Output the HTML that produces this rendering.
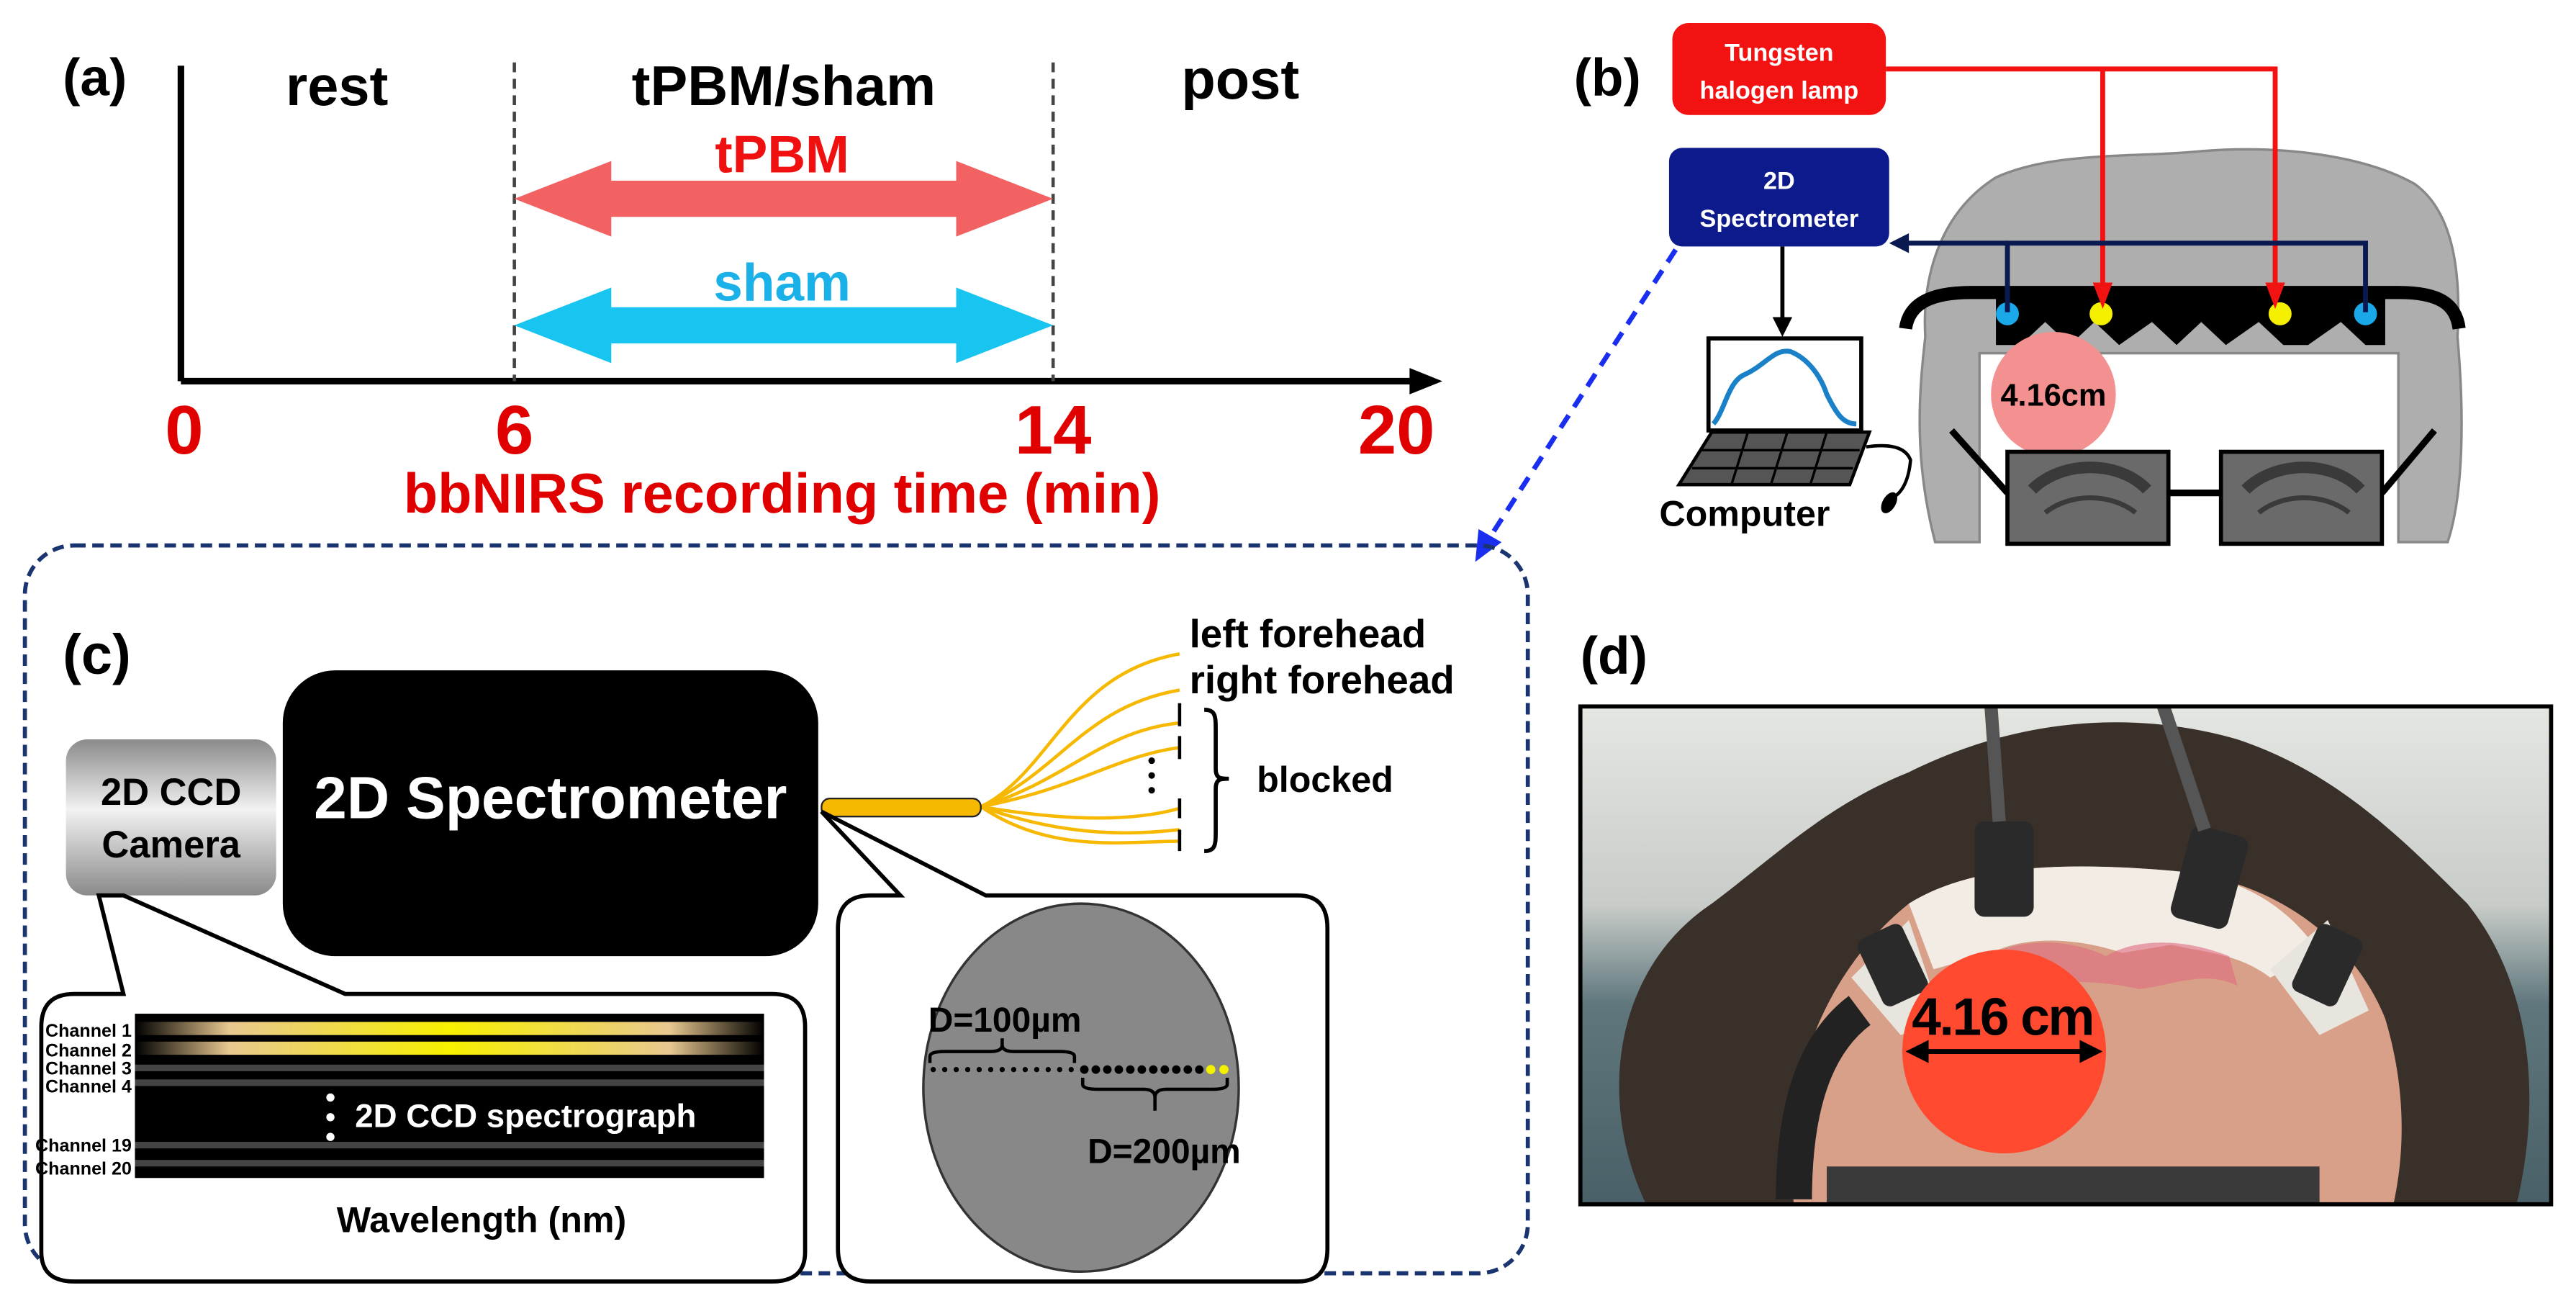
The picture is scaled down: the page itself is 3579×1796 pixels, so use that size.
<!DOCTYPE html>
<html><head><meta charset="utf-8"><style>
html,body{margin:0;padding:0;background:#fff}
svg{display:block}
text{font-family:"Liberation Sans",sans-serif;font-weight:bold}
</style></head><body>
<svg width="3579" height="1796" viewBox="0 0 1568 787" xmlns="http://www.w3.org/2000/svg">
<defs>
<linearGradient id="cam" x1="0" y1="0" x2="0" y2="1"><stop offset="0" stop-color="#8a8a8a"/><stop offset="0.45" stop-color="#f2f2f2"/><stop offset="1" stop-color="#8a8a8a"/></linearGradient>
<linearGradient id="glow" x1="0" y1="0" x2="1" y2="0"><stop offset="0" stop-color="#000"/><stop offset="0.15" stop-color="#e8c890"/><stop offset="0.5" stop-color="#f8f000"/><stop offset="0.85" stop-color="#e8c890"/><stop offset="1" stop-color="#000"/></linearGradient>
<linearGradient id="bg" x1="0" y1="0" x2="0" y2="1"><stop offset="0" stop-color="#e4e6e2"/><stop offset="0.4" stop-color="#c8ccc8"/><stop offset="0.6" stop-color="#5e767c"/><stop offset="1" stop-color="#4a6068"/></linearGradient>
</defs>

<!-- (a) -->
<text x="38" y="58" font-size="32">(a)</text>
<line x1="110" y1="40" x2="110" y2="232" stroke="#000" stroke-width="4"/>
<line x1="110" y1="232" x2="862" y2="232" stroke="#000" stroke-width="4"/>
<polygon points="878,232 858,224 858,240" fill="#000"/>
<line x1="313" y1="38" x2="313" y2="232" stroke="#444" stroke-width="2" stroke-dasharray="6,4"/>
<line x1="641" y1="38" x2="641" y2="232" stroke="#444" stroke-width="2" stroke-dasharray="6,4"/>
<text x="205" y="64" font-size="34" text-anchor="middle">rest</text>
<text x="477" y="64" font-size="34" text-anchor="middle">tPBM/sham</text>
<text x="755" y="60" font-size="34" text-anchor="middle">post</text>
<polygon points="313,121 372,98 372,110 582,110 582,98 641,121 582,144 582,132 372,132 372,144" fill="#f26262"/>
<text x="476" y="105" font-size="32" text-anchor="middle" fill="#f01010">tPBM</text>
<polygon points="313,198 372,175 372,187 582,187 582,175 641,198 582,221 582,209 372,209 372,221" fill="#18c4f0"/>
<text x="476" y="183" font-size="32" text-anchor="middle" fill="#1ab0e8">sham</text>
<g font-size="42" fill="#e00000" text-anchor="middle">
<text x="112" y="276">0</text><text x="313" y="276">6</text><text x="641" y="276">14</text><text x="850" y="276">20</text>
</g>
<text x="476" y="312" font-size="34" fill="#e00000" text-anchor="middle">bbNIRS recording time (min)</text>

<!-- (b) -->
<text x="958" y="58" font-size="32">(b)</text>
<path d="M1178,330 C1165,280 1168,240 1172,205 C1170,170 1180,130 1215,108 C1250,92 1300,96 1340,92 C1390,88 1440,95 1470,112 C1495,130 1498,170 1496,205 C1500,250 1500,300 1490,330 L1460,330 L1460,215 L1205,215 L1205,330 Z" fill="#aeaeae" stroke="#888" stroke-width="1.5"/>
<path d="M1160,200 C1162,185 1175,178 1200,178 L1460,178 C1485,178 1495,185 1497,200" fill="none" stroke="#000" stroke-width="8"/>
<path d="M1215,180 L1452,180 L1452,210 L1440,210 L1425,196 L1405,210 L1390,210 L1375,196 L1355,210 L1340,196 L1325,210 L1310,196 L1290,210 L1275,196 L1260,210 L1245,196 L1230,210 L1215,210 Z" fill="#000"/>
<circle cx="1222" cy="191" r="7" fill="#1aa8e8"/><circle cx="1440" cy="191" r="7" fill="#1aa8e8"/>
<circle cx="1279" cy="191" r="7" fill="#f4f000"/><circle cx="1388" cy="191" r="7" fill="#f4f000"/>
<circle cx="1250" cy="240" r="38" fill="#f39090"/>
<text x="1250" y="247" font-size="19" text-anchor="middle">4.16cm</text>
<line x1="1188" y1="262" x2="1222" y2="300" stroke="#000" stroke-width="4"/>
<line x1="1482" y1="262" x2="1450" y2="300" stroke="#000" stroke-width="4"/>
<line x1="1320" y1="300" x2="1352" y2="300" stroke="#000" stroke-width="4"/>
<rect x="1222" y="275" width="98" height="56" fill="#6a6a6a" stroke="#000" stroke-width="2.5"/>
<rect x="1352" y="275" width="98" height="56" fill="#6a6a6a" stroke="#000" stroke-width="2.5"/>
<path d="M1237,298 C1255,280 1290,280 1307,298" stroke="#3a3a3a" stroke-width="7" fill="none"/>
<path d="M1367,298 C1385,280 1420,280 1437,298" stroke="#3a3a3a" stroke-width="7" fill="none"/>
<path d="M1245,312 C1260,300 1285,300 1300,312" stroke="#3a3a3a" stroke-width="3" fill="none"/>
<path d="M1375,312 C1390,300 1415,300 1430,312" stroke="#3a3a3a" stroke-width="3" fill="none"/>
<rect x="1018" y="14" width="130" height="56" rx="10" fill="#f21212"/>
<text x="1083" y="37" font-size="15" fill="#fff" text-anchor="middle">Tungsten</text>
<text x="1083" y="60" font-size="15" fill="#fff" text-anchor="middle">halogen lamp</text>
<polyline points="1148,42 1385,42 1385,178" fill="none" stroke="#f21212" stroke-width="3"/>
<line x1="1280" y1="42" x2="1280" y2="178" stroke="#f21212" stroke-width="3"/>
<polygon points="1280,188 1274,172 1286,172" fill="#f21212"/><polygon points="1385,188 1379,172 1391,172" fill="#f21212"/>
<rect x="1016" y="90" width="134" height="60" rx="8" fill="#0c1a8c"/>
<text x="1083" y="115" font-size="15" fill="#fff" text-anchor="middle">2D</text>
<text x="1083" y="138" font-size="15" fill="#fff" text-anchor="middle">Spectrometer</text>
<polyline points="1222,190 1222,148 1440,148 1440,190" fill="none" stroke="#0a1a50" stroke-width="3"/>
<line x1="1158" y1="148" x2="1222" y2="148" stroke="#0a1a50" stroke-width="3"/>
<polygon points="1150,148 1162,142 1162,154" fill="#0a1a50"/>
<line x1="1085" y1="150" x2="1085" y2="196" stroke="#000" stroke-width="2.5"/>
<polygon points="1085,205 1079,193 1091,193" fill="#000"/>
<rect x="1040" y="206" width="93" height="56" fill="#fff" stroke="#000" stroke-width="2.5"/>
<path d="M1043,258 C1050,250 1052,232 1062,228 C1075,222 1080,212 1090,214 C1100,218 1108,228 1112,240 C1118,252 1122,258 1130,258" fill="none" stroke="#1a80c8" stroke-width="3"/>
<polygon points="1042,263 1138,263 1126,295 1022,295" fill="#555" stroke="#000" stroke-width="2"/>
<path d="M1036,274 L1132,274 M1030,285 L1128,285 M1064,263 L1054,295 M1088,263 L1078,295 M1112,263 L1102,295" stroke="#000" stroke-width="1.5"/>
<path d="M1136,272 C1150,270 1160,272 1163,280 C1162,292 1158,300 1152,303" fill="none" stroke="#000" stroke-width="2"/>
<ellipse cx="1150" cy="306" rx="4" ry="7" fill="#000" transform="rotate(30 1150 306)"/>
<text x="1062" y="320" font-size="22" text-anchor="middle">Computer</text>
<line x1="1020" y1="152" x2="905" y2="330" stroke="#1a2ef0" stroke-width="3" stroke-dasharray="9,6"/>
<polygon points="898,342 900,322 914,330" fill="#1a2ef0"/>

<!-- (c) -->
<rect x="15" y="332" width="915" height="443" rx="30" fill="none" stroke="#1a3470" stroke-width="2.5" stroke-dasharray="7,4"/>
<text x="38" y="410" font-size="34">(c)</text>
<rect x="40" y="450" width="128" height="95" rx="13" fill="url(#cam)"/>
<text x="104" y="490" font-size="23" text-anchor="middle">2D CCD</text>
<text x="104" y="522" font-size="23" text-anchor="middle">Camera</text>
<rect x="172" y="408" width="326" height="174" rx="32" fill="#000"/>
<text x="335" y="498" font-size="36" fill="#fff" text-anchor="middle">2D Spectrometer</text>
<g fill="none" stroke="#f6b800" stroke-width="2">
<path d="M597,491 C640,470 650,410 718,398"/>
<path d="M597,491 C645,470 660,430 718,420"/>
<path d="M597,491 C650,475 670,445 718,440"/>
<path d="M597,491 C655,480 680,460 718,455"/>
<path d="M597,491 C650,500 690,500 718,492"/>
<path d="M597,491 C650,510 690,508 718,505"/>
<path d="M597,491 C640,520 685,512 718,512"/>
</g>
<rect x="500" y="486" width="97" height="11" rx="5" fill="#f6b800" stroke="#222" stroke-width="1"/>
<g stroke="#000" stroke-width="2"><line x1="718" y1="428" x2="718" y2="442"/><line x1="718" y1="448" x2="718" y2="462"/><line x1="718" y1="486" x2="718" y2="498"/><line x1="718" y1="505" x2="718" y2="518"/></g>
<circle cx="701" cy="463" r="2" fill="#000"/><circle cx="701" cy="472" r="2" fill="#000"/><circle cx="701" cy="481" r="2" fill="#000"/>
<path d="M733,432 C740,432 740,436 740,445 L740,468 C740,474 743,474 748,474 C743,474 740,474 740,480 L740,505 C740,514 740,518 733,518" fill="none" stroke="#000" stroke-width="2.5"/>
<text x="724" y="394" font-size="24">left forehead</text>
<text x="724" y="422" font-size="24">right forehead</text>
<text x="765" y="482" font-size="22">blocked</text>
<!-- spectrograph callout -->
<path d="M45,605 L75,605 L60,545 L75,545 L210,605 L470,605 Q490,605 490,625 L490,762 Q490,780 470,780 L45,780 Q25,780 25,762 L25,625 Q25,605 45,605 Z" fill="#fff" stroke="#000" stroke-width="2.5"/>
<rect x="82" y="617" width="383" height="100" fill="#000"/>
<rect x="82" y="622" width="383" height="8" fill="url(#glow)"/>
<rect x="82" y="634" width="383" height="8" fill="url(#glow)"/>
<rect x="82" y="648" width="383" height="4" fill="#444"/>
<rect x="82" y="657" width="383" height="4" fill="#444"/>
<rect x="82" y="695" width="383" height="4" fill="#444"/>
<rect x="82" y="706" width="383" height="4" fill="#444"/>
<g font-size="11" text-anchor="end"><text x="80" y="631">Channel 1</text><text x="80" y="643">Channel 2</text><text x="80" y="654">Channel 3</text><text x="80" y="665">Channel 4</text><text x="80" y="701">Channel 19</text><text x="80" y="715">Channel 20</text></g>
<circle cx="201" cy="668" r="2.5" fill="#fff"/><circle cx="201" cy="680" r="2.5" fill="#fff"/><circle cx="201" cy="692" r="2.5" fill="#fff"/>
<text x="216" y="686" font-size="20" fill="#fff">2D CCD spectrograph</text>
<text x="293" y="750" font-size="22" text-anchor="middle">Wavelength (nm)</text>
<!-- fiber callout -->
<path d="M530,545 L548,545 L500,494 L600,545 L790,545 Q808,545 808,565 L808,760 Q808,780 790,780 L530,780 Q510,780 510,760 L510,565 Q510,545 530,545 Z" fill="#fff" stroke="#000" stroke-width="2.5"/>
<ellipse cx="658" cy="662" rx="96" ry="112" fill="#888" stroke="#333" stroke-width="1.5"/>
<g fill="#000">
<circle cx="568" cy="651" r="1.6"/><circle cx="575" cy="651" r="1.6"/><circle cx="582" cy="651" r="1.6"/><circle cx="589" cy="651" r="1.6"/><circle cx="596" cy="651" r="1.6"/><circle cx="603" cy="651" r="1.6"/><circle cx="610" cy="651" r="1.6"/><circle cx="617" cy="651" r="1.6"/><circle cx="624" cy="651" r="1.6"/><circle cx="631" cy="651" r="1.6"/><circle cx="638" cy="651" r="1.6"/><circle cx="645" cy="651" r="1.6"/><circle cx="652" cy="651" r="1.6"/>
<circle cx="660" cy="651" r="2.6"/><circle cx="667" cy="651" r="2.6"/><circle cx="674" cy="651" r="2.6"/><circle cx="681" cy="651" r="2.6"/><circle cx="688" cy="651" r="2.6"/><circle cx="695" cy="651" r="2.6"/><circle cx="702" cy="651" r="2.6"/><circle cx="709" cy="651" r="2.6"/><circle cx="716" cy="651" r="2.6"/><circle cx="723" cy="651" r="2.6"/><circle cx="730" cy="651" r="2.6"/>
</g>
<circle cx="737" cy="651" r="2.8" fill="#f4f000"/><circle cx="745" cy="651" r="2.8" fill="#f4f000"/>
<path d="M566,647 L566,643 Q566,640 575,640 L603,640 Q610,640 610,636 L610,632 M610,636 Q610,640 617,640 L645,640 Q654,640 654,643 L654,647" fill="none" stroke="#000" stroke-width="2"/>
<path d="M659,656 L659,660 Q659,663 668,663 L696,663 Q703,663 703,668 L703,676 M703,668 Q703,663 710,663 L738,663 Q747,663 747,660 L747,656" fill="none" stroke="#000" stroke-width="2"/>
<text x="565" y="628" font-size="21">D=100µm</text>
<text x="662" y="708" font-size="21">D=200µm</text>

<!-- (d) -->
<text x="962" y="410" font-size="32">(d)</text>
<svg x="962" y="430" width="591" height="303" viewBox="0 0 591 303">
<rect width="591" height="303" fill="url(#bg)"/>
<path d="M40,303 C10,240 20,160 80,120 C120,90 150,60 200,40 C260,10 330,0 400,20 C460,40 500,80 540,120 C580,170 585,240 570,303 Z" fill="#3a302a"/>
<path d="M130,303 C120,230 150,160 200,120 C240,95 300,95 360,100 C420,105 470,140 490,190 C505,240 500,280 495,303 Z" fill="#d8a088"/>
<path d="M200,120 C240,95 300,95 360,100 C400,103 430,120 450,150 L420,165 C400,150 380,150 360,145 L330,150 C300,140 270,140 250,150 L215,160 Z" fill="#f2ece4"/>
<path d="M248,152 C270,140 300,142 320,152 C340,140 370,142 395,152 L400,170 C380,160 360,170 340,172 C310,165 280,168 255,170 Z" fill="#e06a80" opacity="0.6"/>
<path d="M165,165 L200,130 L220,190 L195,200 Z" fill="#e8e4de"/>
<path d="M420,160 L455,130 L480,185 L450,200 Z" fill="#e8e4de"/>
<rect x="175" y="135" width="30" height="45" rx="5" fill="#2a2a2a" transform="rotate(-25 190 157)"/>
<rect x="440" y="135" width="30" height="45" rx="5" fill="#2a2a2a" transform="rotate(25 455 157)"/>
<rect x="240" y="70" width="36" height="58" rx="6" fill="#2a2a2a"/>
<rect x="365" y="75" width="36" height="58" rx="6" fill="#2a2a2a" transform="rotate(15 383 104)"/>
<path d="M255,70 L250,0 M380,75 L355,0" stroke="#555" stroke-width="8" fill="none"/>
<path d="M130,300 C130,230 150,200 170,185" stroke="#222" stroke-width="22" fill="none"/>
<rect x="150" y="280" width="300" height="23" fill="#3a3a3a"/>
<circle cx="258" cy="210" r="62" fill="#ff4a30"/>
<line x1="203" y1="210" x2="313" y2="210" stroke="#000" stroke-width="3"/>
<polygon points="198,210 212,203 212,217" fill="#000"/><polygon points="318,210 304,203 304,217" fill="#000"/>
<text x="257" y="200" font-size="32" text-anchor="middle" letter-spacing="-1">4.16 cm</text>
</svg>
<rect x="962" y="430" width="591" height="303" fill="none" stroke="#000" stroke-width="2.5"/>
</svg>
</body></html>
